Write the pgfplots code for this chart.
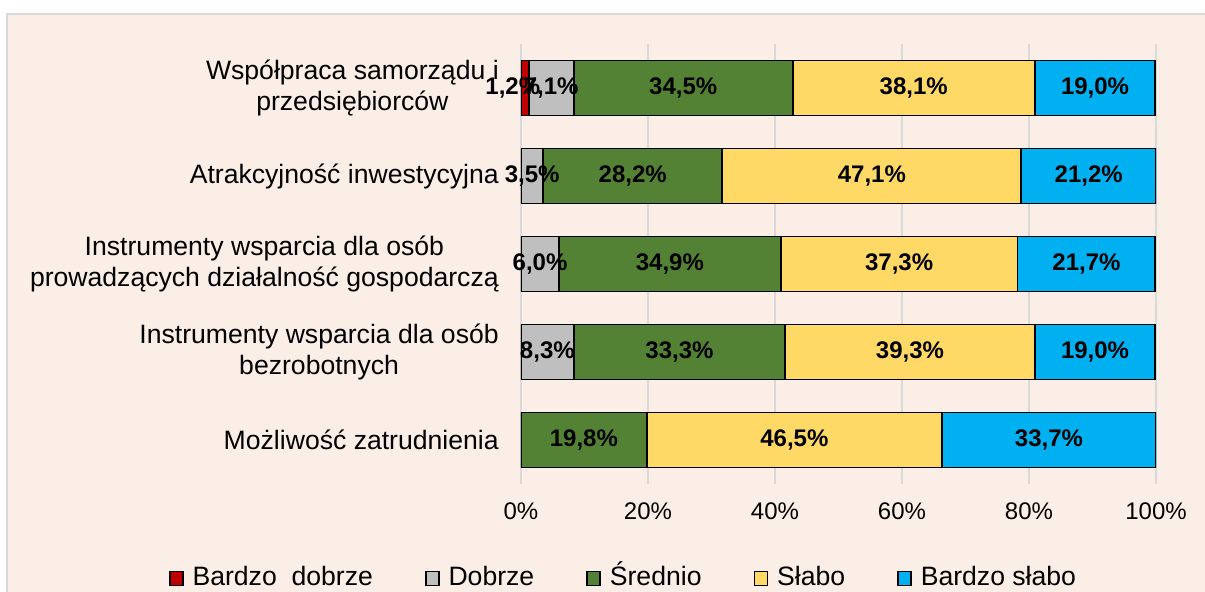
\documentclass[border=0pt]{standalone}
\usepackage{pgfplots}
\usepackage{pgfplotstable}
\pgfplotsset{compat=1.18}
\usepackage{fontspec}
\setmainfont{Liberation Sans}
\definecolor{bg}{HTML}{FBEEE6}
\definecolor{framec}{HTML}{D9D9D9}
\definecolor{gridc}{HTML}{D9D9D9}
\definecolor{cRed}{HTML}{C00000}
\definecolor{cGrey}{HTML}{BFBFBF}
\definecolor{cGreen}{HTML}{548235}
\definecolor{cYellow}{HTML}{FFD966}
\definecolor{cBlue}{HTML}{00B0F0}

\pgfplotstableread{
cat bd d s sl bs
0 1.2 7.1 34.5 38.1 19.0
1 0 3.5 28.2 47.1 21.2
2 0 6.0 34.9 37.3 21.7
3 0 8.3 33.3 39.3 19.0
4 0 0 19.8 46.5 33.7
}\data

\begin{document}
\begin{tikzpicture}
\path[use as bounding box] (0,0) rectangle (602.5pt,296pt);
\fill[bg] (3.5pt,0) rectangle (602.5pt,289pt);
\draw[framec, line width=0.8pt] (3.5pt,0) -- (3.5pt,289pt) -- (602.5pt,289pt);
\begin{axis}[
  at={(260.5pt,54pt)}, anchor=south west,
  scale only axis, width=317.5pt, height=220pt,
  xbar stacked, bar width=27.5pt,
  xmin=0, xmax=100, ymin=-0.5, ymax=4.5, y dir=reverse,
  axis line style={draw=none},
  xmajorgrids, grid style={gridc, line width=0.8pt},
  major tick length=0pt,
  /pgf/number format/assume math mode=true,
  xtick={0,20,40,60,80,100},
  xticklabels={0\%,20\%,40\%,60\%,80\%,100\%},
  xticklabel style={font=\fontsize{12}{14}\selectfont, yshift=-6pt},
  ytick={0,1,2,3,4},
  yticklabels={{Współpraca samorządu i\\przedsiębiorców},{Atrakcyjność inwestycyjna},{Instrumenty wsparcia dla osób\\prowadzących działalność gospodarczą},{Instrumenty wsparcia dla osób\\bezrobotnych},{Możliwość zatrudnienia}},
  yticklabel style={font=\fontsize{13.3}{15.5}\selectfont, align=center, xshift=-7.6pt},
  point meta=explicit,
  nodes near coords={\pgfmathfloatifflags{\pgfplotspointmeta}{0}{}{\pgfmathprintnumber[fixed,fixed zerofill,precision=1,use comma,assume math mode=true]{\pgfplotspointmeta}\%}},
  every node near coord/.append style={font=\fontsize{12}{14}\selectfont\bfseries, text=black},
  every axis plot/.append style={draw=black, line width=0.9pt},
  legend style={at={(0.163,-0.207)}, anchor=center, draw=none, fill=none,
    legend columns=5, font=\fontsize{13.3}{16}\selectfont,
    column sep=2.5pt, nodes={anchor=base},
    /tikz/every even column/.append style={column sep=24pt}},
  legend image code/.code={\draw[#1, line width=0.8pt, draw=black] (0pt,0pt) rectangle (6.5pt,7pt);},
]
\addplot[fill=cRed, every node near coord/.append style={xshift=-6pt}] table[x=bd, y=cat, meta=bd] \data;
\addlegendentry{Bardzo\ \ dobrze}
\addplot[fill=cGrey] table[x=d, y=cat, meta=d] \data;
\addlegendentry{Dobrze}
\addplot[fill=cGreen] table[x=s, y=cat, meta=s] \data;
\addlegendentry{Średnio}
\addplot[fill=cYellow] table[x=sl, y=cat, meta=sl] \data;
\addlegendentry{Słabo}
\addplot[fill=cBlue] table[x=bs, y=cat, meta=bs] \data;
\addlegendentry{Bardzo słabo}
\end{axis}
\end{tikzpicture}
\end{document}
